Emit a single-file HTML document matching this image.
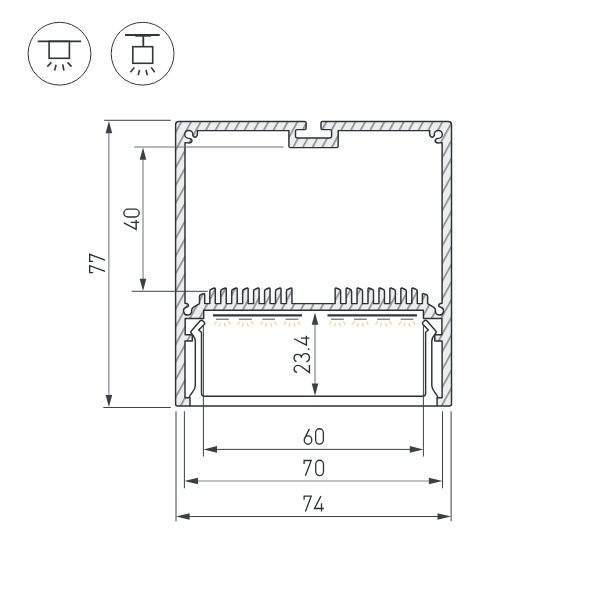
<!DOCTYPE html>
<html><head><meta charset="utf-8"><style>
html,body{margin:0;padding:0;background:#fff;width:600px;height:600px;overflow:hidden}
svg{display:block}
</style></head><body>
<svg width="600" height="600" viewBox="0 0 600 600">
<defs>
<pattern id="hatch" patternUnits="userSpaceOnUse" width="20" height="8.481" patternTransform="rotate(-61.3)">
<rect width="20" height="8.481" fill="#ededed"/>
<line x1="0" y1="5.61" x2="20" y2="5.61" stroke="#40454a" stroke-width="0.95"/>
</pattern>
<path id="L" d="M 313.75,137.9 L 297.2,137.9 Q 295.5,137.9 295.5,136.2 L 295.5,131.3 Q 295.5,129.6 297.2,129.6 L 304.5,129.6 Q 306.1,129.6 306.1,127.9 L 306.1,123.1 Q 306.1,121.4 304.4,121.4
L 178.7,121.4 Q 175.6,121.4 175.6,124.4 L 175.6,404 Q 175.6,406 177.6,406
L 190,406 L 190,397.7 L 185,397.7 L 185,341 L 192.3,341 L 192.3,334.7 L 185.2,334.7 L 185.2,318.4
L 203.7,318.4 L 203.7,310.3 L 313.75,310.3 L 313.75,303.6 L 291.95,303.6 L 291.95,289 Q 291.95,287.8 291.05,288 L 287.85,289.2 Q 286.45,289.6 286.45,291.2 L 286.45,303.6 L 281,303.6 L 281,289 Q 281,287.8 280.1,288 L 276.9,289.2 Q 275.5,289.6 275.5,291.2 L 275.5,303.6 L 270.05,303.6 L 270.05,289 Q 270.05,287.8 269.15,288 L 265.95,289.2 Q 264.55,289.6 264.55,291.2 L 264.55,303.6 L 259.1,303.6 L 259.1,289 Q 259.1,287.8 258.2,288 L 255,289.2 Q 253.6,289.6 253.6,291.2 L 253.6,303.6 L 248.15,303.6 L 248.15,289 Q 248.15,287.8 247.25,288 L 244.05,289.2 Q 242.65,289.6 242.65,291.2 L 242.65,303.6 L 237.2,303.6 L 237.2,289 Q 237.2,287.8 236.3,288 L 233.1,289.2 Q 231.7,289.6 231.7,291.2 L 231.7,303.6 L 226.25,303.6 L 226.25,289 Q 226.25,287.8 225.35,288 L 222.15,289.2 Q 220.75,289.6 220.75,291.2 L 220.75,303.6 L 215.3,303.6 L 215.3,289 Q 215.3,287.8 214.4,288 L 211.2,289.2 Q 209.8,289.6 209.8,291.2 L 209.8,303.6 L 204.7,303.6 L 204.7,294.6 Q 204.7,293.3 203.5,293.6 L 200.6,294.7 Q 199.5,295.2 199.5,296.5 L 199.5,303.6 L 193.2,307.4 C 192,308.2 191.6,309.5 191.6,311 A 4 4 0 1 1 186.2,307.3 C 187.6,306.8 188.9,306.3 188.3,304.8 C 187.9,303.8 187,303.3 185,303.3 L 185,142.8 L 187.8,142.9 C 189.5,143 191.6,142.6 191.9,141 C 192.2,139.5 190.5,138.2 188.6,138.4 A 4 4 0 1 1 192.8,134.3 C 192.6,135.5 193.5,137.4 195.3,137.2 C 197.8,136.8 197.8,131.5 197.2,130.6 L 288.9,130.6 L 288.9,145.9 Q 288.9,147.6 290.6,147.6 L 313.75,147.6 Z"/>
<clipPath id="cp"><use href="#L"/><use href="#L" transform="matrix(-1 0 0 1 627.1 0)"/></clipPath>
</defs>
<rect x="0" y="0" width="600" height="600" fill="#ffffff"/>

<g fill="none" stroke="#30363b">
<circle cx="59.5" cy="53.7" r="31.4" stroke-width="1"/>
<circle cx="142.6" cy="53.7" r="31.4" stroke-width="1"/>
<line x1="37.7" y1="41.3" x2="81.1" y2="41.3" stroke-width="1.8"/>
<rect x="49.1" y="41.3" width="20.3" height="17" stroke-width="1.6"/>
<line x1="47.3" y1="66.6" x2="51.4" y2="62.4" stroke-width="1.6"/>
<line x1="54.6" y1="70.5" x2="56.1" y2="64.8" stroke-width="1.6"/>
<line x1="63.9" y1="70.5" x2="62.7" y2="64.4" stroke-width="1.6"/>
<line x1="71.5" y1="66.6" x2="67.6" y2="62.4" stroke-width="1.6"/>
<line x1="125" y1="35" x2="159.7" y2="35" stroke-width="1.8"/>
<line x1="135.4" y1="35.6" x2="151" y2="35.6" stroke-width="2.2"/>
<line x1="143.3" y1="35" x2="143.3" y2="46.7" stroke-width="1.8"/>
<rect x="132.8" y="46.7" width="19.9" height="16.6" stroke-width="1.6"/>
<line x1="130.4" y1="72.2" x2="134.3" y2="67.4" stroke-width="1.6"/>
<line x1="138.2" y1="75.2" x2="139.5" y2="70" stroke-width="1.6"/>
<line x1="147.3" y1="75.2" x2="146" y2="70" stroke-width="1.6"/>
<line x1="154.7" y1="72.2" x2="151.2" y2="67.4" stroke-width="1.6"/>
</g>

<rect x="170" y="115" width="290" height="300" fill="url(#hatch)" clip-path="url(#cp)"/>
<g fill="none" stroke="#2b3136" stroke-width="1.45" stroke-linejoin="round">
<path id="S" d="M 313.75,137.9 L 297.2,137.9 Q 295.5,137.9 295.5,136.2 L 295.5,131.3 Q 295.5,129.6 297.2,129.6 L 304.5,129.6 Q 306.1,129.6 306.1,127.9 L 306.1,123.1 Q 306.1,121.4 304.4,121.4
L 178.7,121.4 Q 175.6,121.4 175.6,124.4 L 175.6,404 Q 175.6,406 177.6,406
L 190,406 L 190,397.7 L 185,397.7 L 185,341 L 192.3,341 L 192.3,334.7 L 185.2,334.7 L 185.2,318.4
L 203.7,318.4 L 203.7,310.3 L 313.75,310.3 M 313.75,303.6 L 291.95,303.6 L 291.95,289 Q 291.95,287.8 291.05,288 L 287.85,289.2 Q 286.45,289.6 286.45,291.2 L 286.45,303.6 L 281,303.6 L 281,289 Q 281,287.8 280.1,288 L 276.9,289.2 Q 275.5,289.6 275.5,291.2 L 275.5,303.6 L 270.05,303.6 L 270.05,289 Q 270.05,287.8 269.15,288 L 265.95,289.2 Q 264.55,289.6 264.55,291.2 L 264.55,303.6 L 259.1,303.6 L 259.1,289 Q 259.1,287.8 258.2,288 L 255,289.2 Q 253.6,289.6 253.6,291.2 L 253.6,303.6 L 248.15,303.6 L 248.15,289 Q 248.15,287.8 247.25,288 L 244.05,289.2 Q 242.65,289.6 242.65,291.2 L 242.65,303.6 L 237.2,303.6 L 237.2,289 Q 237.2,287.8 236.3,288 L 233.1,289.2 Q 231.7,289.6 231.7,291.2 L 231.7,303.6 L 226.25,303.6 L 226.25,289 Q 226.25,287.8 225.35,288 L 222.15,289.2 Q 220.75,289.6 220.75,291.2 L 220.75,303.6 L 215.3,303.6 L 215.3,289 Q 215.3,287.8 214.4,288 L 211.2,289.2 Q 209.8,289.6 209.8,291.2 L 209.8,303.6 L 204.7,303.6 L 204.7,294.6 Q 204.7,293.3 203.5,293.6 L 200.6,294.7 Q 199.5,295.2 199.5,296.5 L 199.5,303.6 L 193.2,307.4 C 192,308.2 191.6,309.5 191.6,311 A 4 4 0 1 1 186.2,307.3 C 187.6,306.8 188.9,306.3 188.3,304.8 C 187.9,303.8 187,303.3 185,303.3 L 185,142.8 L 187.8,142.9 C 189.5,143 191.6,142.6 191.9,141 C 192.2,139.5 190.5,138.2 188.6,138.4 A 4 4 0 1 1 192.8,134.3 C 192.6,135.5 193.5,137.4 195.3,137.2 C 197.8,136.8 197.8,131.5 197.2,130.6 L 288.9,130.6 L 288.9,145.9 Q 288.9,147.6 290.6,147.6 L 313.75,147.6"/>
<use href="#S" transform="matrix(-1 0 0 1 627.1 0)"/>
<path id="D" d="M 313.75,406 L 190,406 M 189.3,397.7 C 189.3,393.2 195.3,392.2 195.3,385.5 L 195.3,341
C 195.3,336 191.5,335 190.7,331.8 L 200,321 C 201,320 202,320 203,321 L 204.2,322.3
C 204.8,323 204.8,323.8 204.2,324.4 L 198.7,330 L 201.5,332.3 L 201.5,393.3 Q 201.5,396.3 204.5,396.3 L 313.75,396.3"/>
<use href="#D" transform="matrix(-1 0 0 1 627.1 0)"/>
</g>
<line x1="213" y1="315.3" x2="302" y2="315.3" stroke="#353638" stroke-width="2.3"/>
<line x1="216" y1="319.2" x2="228.8" y2="319.2" stroke="#5c5e60" stroke-width="1.1"/>
<line x1="214.2" y1="324.6" x2="216.7" y2="321.3" stroke="#f7cf7e" stroke-width="1.15"/>
<line x1="219.2" y1="326.7" x2="220.4" y2="322.9" stroke="#f7cf7e" stroke-width="1.15"/>
<line x1="225.4" y1="326.7" x2="224.3" y2="322.9" stroke="#f7cf7e" stroke-width="1.15"/>
<line x1="230.4" y1="324.6" x2="228.2" y2="321.3" stroke="#f7cf7e" stroke-width="1.15"/>
<line x1="239" y1="319.2" x2="251.8" y2="319.2" stroke="#5c5e60" stroke-width="1.1"/>
<line x1="237.2" y1="324.6" x2="239.7" y2="321.3" stroke="#f7cf7e" stroke-width="1.15"/>
<line x1="242.2" y1="326.7" x2="243.4" y2="322.9" stroke="#f7cf7e" stroke-width="1.15"/>
<line x1="248.4" y1="326.7" x2="247.3" y2="322.9" stroke="#f7cf7e" stroke-width="1.15"/>
<line x1="253.4" y1="324.6" x2="251.2" y2="321.3" stroke="#f7cf7e" stroke-width="1.15"/>
<line x1="262.2" y1="319.2" x2="275" y2="319.2" stroke="#5c5e60" stroke-width="1.1"/>
<line x1="260.4" y1="324.6" x2="262.9" y2="321.3" stroke="#f7cf7e" stroke-width="1.15"/>
<line x1="265.4" y1="326.7" x2="266.6" y2="322.9" stroke="#f7cf7e" stroke-width="1.15"/>
<line x1="271.6" y1="326.7" x2="270.5" y2="322.9" stroke="#f7cf7e" stroke-width="1.15"/>
<line x1="276.6" y1="324.6" x2="274.4" y2="321.3" stroke="#f7cf7e" stroke-width="1.15"/>
<line x1="285.6" y1="319.2" x2="298.4" y2="319.2" stroke="#5c5e60" stroke-width="1.1"/>
<line x1="283.8" y1="324.6" x2="286.3" y2="321.3" stroke="#f7cf7e" stroke-width="1.15"/>
<line x1="288.8" y1="326.7" x2="290" y2="322.9" stroke="#f7cf7e" stroke-width="1.15"/>
<line x1="295" y1="326.7" x2="293.9" y2="322.9" stroke="#f7cf7e" stroke-width="1.15"/>
<line x1="300" y1="324.6" x2="297.8" y2="321.3" stroke="#f7cf7e" stroke-width="1.15"/>
<line x1="327.5" y1="315.3" x2="417" y2="315.3" stroke="#353638" stroke-width="2.3"/>
<line x1="331" y1="319.2" x2="343.8" y2="319.2" stroke="#5c5e60" stroke-width="1.1"/>
<line x1="329.2" y1="324.6" x2="331.7" y2="321.3" stroke="#f7cf7e" stroke-width="1.15"/>
<line x1="334.2" y1="326.7" x2="335.4" y2="322.9" stroke="#f7cf7e" stroke-width="1.15"/>
<line x1="340.4" y1="326.7" x2="339.3" y2="322.9" stroke="#f7cf7e" stroke-width="1.15"/>
<line x1="345.4" y1="324.6" x2="343.2" y2="321.3" stroke="#f7cf7e" stroke-width="1.15"/>
<line x1="354" y1="319.2" x2="366.8" y2="319.2" stroke="#5c5e60" stroke-width="1.1"/>
<line x1="352.2" y1="324.6" x2="354.7" y2="321.3" stroke="#f7cf7e" stroke-width="1.15"/>
<line x1="357.2" y1="326.7" x2="358.4" y2="322.9" stroke="#f7cf7e" stroke-width="1.15"/>
<line x1="363.4" y1="326.7" x2="362.3" y2="322.9" stroke="#f7cf7e" stroke-width="1.15"/>
<line x1="368.4" y1="324.6" x2="366.2" y2="321.3" stroke="#f7cf7e" stroke-width="1.15"/>
<line x1="377.2" y1="319.2" x2="390" y2="319.2" stroke="#5c5e60" stroke-width="1.1"/>
<line x1="375.4" y1="324.6" x2="377.9" y2="321.3" stroke="#f7cf7e" stroke-width="1.15"/>
<line x1="380.4" y1="326.7" x2="381.6" y2="322.9" stroke="#f7cf7e" stroke-width="1.15"/>
<line x1="386.6" y1="326.7" x2="385.5" y2="322.9" stroke="#f7cf7e" stroke-width="1.15"/>
<line x1="391.6" y1="324.6" x2="389.4" y2="321.3" stroke="#f7cf7e" stroke-width="1.15"/>
<line x1="400.6" y1="319.2" x2="413.4" y2="319.2" stroke="#5c5e60" stroke-width="1.1"/>
<line x1="398.8" y1="324.6" x2="401.3" y2="321.3" stroke="#f7cf7e" stroke-width="1.15"/>
<line x1="403.8" y1="326.7" x2="405" y2="322.9" stroke="#f7cf7e" stroke-width="1.15"/>
<line x1="410" y1="326.7" x2="408.9" y2="322.9" stroke="#f7cf7e" stroke-width="1.15"/>
<line x1="415" y1="324.6" x2="412.8" y2="321.3" stroke="#f7cf7e" stroke-width="1.15"/>

<line x1="104.2" y1="120.3" x2="170.8" y2="120.3" stroke="#3e4449" stroke-width="1"/><line x1="103.3" y1="407.5" x2="170.8" y2="407.5" stroke="#3e4449" stroke-width="1"/><line x1="108.9" y1="125" x2="108.9" y2="402" stroke="#6c7175" stroke-width="1"/><path d="M 108.9,121 L 105.6,133.2 L 112.2,133.2 Z" fill="#3a4046"/><path d="M 108.9,407.1 L 105.6,394.9 L 112.2,394.9 Z" fill="#3a4046"/><line x1="134.2" y1="147" x2="283.5" y2="147" stroke="#6c7175" stroke-width="1"/><line x1="131.7" y1="291.3" x2="207.7" y2="291.3" stroke="#3e4449" stroke-width="1"/><line x1="143" y1="152" x2="143" y2="287" stroke="#6c7175" stroke-width="1"/><path d="M 143,147.6 L 139.7,159.8 L 146.3,159.8 Z" fill="#3a4046"/><path d="M 143,290.9 L 139.7,278.7 L 146.3,278.7 Z" fill="#3a4046"/><line x1="315" y1="316" x2="315" y2="392" stroke="#6c7175" stroke-width="1"/><path d="M 315,312.5 L 311.7,324.7 L 318.3,324.7 Z" fill="#3a4046"/><path d="M 315,395.8 L 311.7,383.6 L 318.3,383.6 Z" fill="#3a4046"/><line x1="203.4" y1="326" x2="203.4" y2="456.6" stroke="#3e4449" stroke-width="1"/><line x1="423.4" y1="326" x2="423.4" y2="456.6" stroke="#3e4449" stroke-width="1"/><line x1="207.4" y1="449.4" x2="419.4" y2="449.4" stroke="#3e4449" stroke-width="1"/><path d="M 203.4,449.4 L 217,446.1 L 217,452.7 Z" fill="#3a4046"/><path d="M 423.4,449.4 L 409.8,446.1 L 409.8,452.7 Z" fill="#3a4046"/><line x1="184.4" y1="411.3" x2="184.4" y2="488.3" stroke="#3e4449" stroke-width="1"/><line x1="442.5" y1="411.3" x2="442.5" y2="488.3" stroke="#3e4449" stroke-width="1"/><line x1="188.4" y1="481.0" x2="438.5" y2="481.0" stroke="#7f8487" stroke-width="1"/><path d="M 184.4,481 L 198,477.7 L 198,484.3 Z" fill="#3a4046"/><path d="M 442.5,481 L 428.9,477.7 L 428.9,484.3 Z" fill="#3a4046"/><line x1="176" y1="411.3" x2="176" y2="521.2" stroke="#3e4449" stroke-width="1"/><line x1="451.1" y1="411.3" x2="451.1" y2="521.2" stroke="#3e4449" stroke-width="1"/><line x1="180" y1="516.5" x2="447.1" y2="516.5" stroke="#3e4449" stroke-width="1"/><path d="M 176,516.5 L 189.6,513.2 L 189.6,519.8 Z" fill="#3a4046"/><path d="M 451.1,516.5 L 437.5,513.2 L 437.5,519.8 Z" fill="#3a4046"/>
<g fill="none" stroke="#2a3035" stroke-width="1.3" stroke-linejoin="miter" stroke-linecap="butt">
<g aria-label="60"><path d="M5.75,-15.3 L1.1,-6.3 M0.62,-4.65 A3.78,4.03 0 1 0 8.18,-4.65 A3.78,4.03 0 1 0 0.62,-4.65 Z" transform="translate(303.6,445.0) scale(1,1.055)"/><path d="M0.62,-11.3 A3.88,3.88 0 0 1 8.38,-11.3 L8.38,-4.5 A3.88,3.88 0 0 1 0.62,-4.5 Z" transform="translate(315.0,444.80) scale(1,1.055)"/></g>
<g aria-label="70"><path d="M0.62,-11.9 L0.62,-15.18 L7.7,-15.18 L1.9,-0.62" transform="translate(303.5,476.5) scale(1,1.055)"/><path d="M0.62,-11.3 A3.88,3.88 0 0 1 8.38,-11.3 L8.38,-4.5 A3.88,3.88 0 0 1 0.62,-4.5 Z" transform="translate(315.1,476.30) scale(1,1.055)"/></g>
<g aria-label="74"><path d="M0.62,-11.9 L0.62,-15.18 L7.7,-15.18 L1.9,-0.62" transform="translate(303.5,512.2) scale(1,1.055)"/><path d="M10.0,-3.5 L0.62,-3.5 L7.0,-15.18 M7.6,-8.6 L7.6,-0.62" transform="translate(313.9,512.2) scale(1,1.055)"/></g>
<g aria-label="77"><path d="M0.62,-11.9 L0.62,-15.18 L7.7,-15.18 L1.9,-0.62" transform="translate(105.7,273.3) rotate(-90) scale(1,1.055)"/><path d="M0.62,-11.9 L0.62,-15.18 L7.7,-15.18 L1.9,-0.62" transform="translate(105.7,262.0) rotate(-90) scale(1,1.055)"/></g>
<g aria-label="40"><path d="M10.0,-3.5 L0.62,-3.5 L7.0,-15.18 M7.6,-8.6 L7.6,-0.62" transform="translate(139.85,229.9) rotate(-90) scale(1,1.055)"/><path d="M0.62,-11.3 A3.88,3.88 0 0 1 8.38,-11.3 L8.38,-4.5 A3.88,3.88 0 0 1 0.62,-4.5 Z" transform="translate(139.85,217.6) rotate(-90) scale(1,1.055)"/></g>
<g aria-label="23.4"><path d="M0.75,-12.4 C1.2,-14.2 2.6,-15.18 4.25,-15.18 C6.3,-15.18 7.9,-13.5 7.9,-11.4 C7.9,-10 7.3,-9.1 6.4,-8.0 L0.62,-0.62 L8.3,-0.62" transform="translate(310.1,373.2) rotate(-90) scale(1,1.055)"/><path d="M1.0,-12.9 C1.6,-14.5 3.0,-15.18 4.6,-15.18 C6.7,-15.18 8.3,-13.9 8.3,-11.9 C8.3,-9.6 6.6,-8.3 4.8,-8.3 C7.2,-8.3 9.0,-6.5 9.0,-4.3 C9.0,-2.0 7.2,-0.62 4.8,-0.62 C2.9,-0.62 1.4,-1.6 0.8,-3.6" transform="translate(310.1,362.6) rotate(-90) scale(1,1.055)"/><path d="M10.0,-3.5 L0.62,-3.5 L7.0,-15.18 M7.6,-8.6 L7.6,-0.62" transform="translate(310.1,345.8) rotate(-90) scale(1,1.055)"/><rect x="307.8" y="348.4" width="1.6" height="1.6" fill="#2f353a" stroke="none"/></g>
</g>
</svg>
</body></html>
